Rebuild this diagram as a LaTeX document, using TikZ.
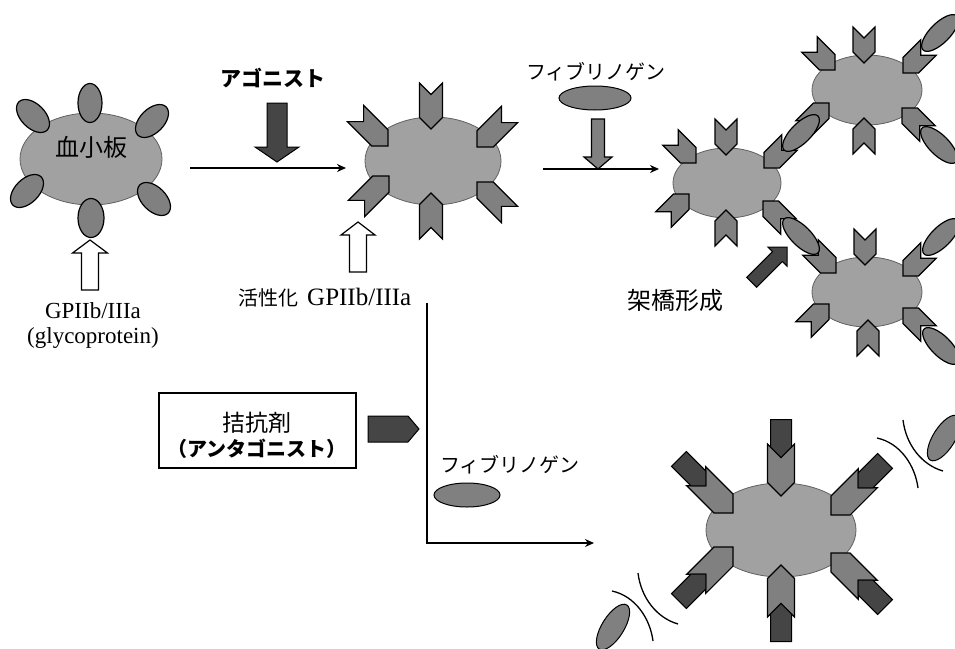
\documentclass[tikz,border=0pt]{standalone}
\usepackage{fontspec}
\setmainfont{Liberation Serif}
\newfontfamily\jp{Noto Sans CJK JP}
\usetikzlibrary{arrows.meta}
\definecolor{gclair}{gray}{.63}
\definecolor{gmoy}{gray}{.5}
\definecolor{gfonce}{gray}{.27}
\tikzset{>=Stealth,
 plaquette/.style={fill=gclair,draw=gray!75!black,line width=.8pt},
 recept/.style={fill=gmoy,draw=black,line width=1.2pt,line join=miter},
 sombre/.style={fill=gfonce,draw=black,line width=1pt},
 creux/.style={fill=white,draw=black,line width=1.2pt},
 flux/.style={line width=1.8pt,-{Stealth[length=9pt,width=8pt]}},
 arc/.style={line width=1.3pt},
 jtxt/.style={font=\jp\fontsize{20}{24}\selectfont},
 ltxt/.style={font=\fontsize{23}{25}\selectfont}}
% recepteur active en chevron : pointe, angle, longueur, largeur
\newcommand{\chev}[4]{\begin{scope}[shift={#1},rotate=#2]
 \filldraw[recept] (0,0)--(-#4/2,#4/2)--(-#3,#4/2)--(-#3+#4/2,0)--(-#3,-#4/2)--(-#4/2,-#4/2)--cycle;
 \end{scope}}
% fleche pleine : style, pointe, angle, longueur, corps, tete, profondeur de tete
\newcommand{\bloc}[7]{\begin{scope}[shift={#2},rotate=#3]
 \filldraw[#1] (0,0)--(-#7,#6/2)--(-#7,#5/2)--(-#4,#5/2)--(-#4,-#5/2)--(-#7,-#5/2)--(-#7,-#6/2)--cycle;
 \end{scope}}
% bouchon antagoniste : pointe, angle, longueur, largeur, profondeur
\newcommand{\bouchon}[5]{\begin{scope}[shift={#1},rotate=#2]
 \filldraw[sombre] (0,0)--(-#5,#4/2)--(-#3,#4/2)--(-#3,-#4/2)--(-#5,-#4/2)--cycle;
 \end{scope}}
% paire d'arcs de repulsion
\newcommand{\repousse}[1]{\begin{scope}[shift={#1}]
 \draw[arc] (877,438) .. controls (900,443) and (915,465) .. (918,488);
 \draw[arc] (903,420) .. controls (906,445) and (922,465) .. (943,471);
 \end{scope}}

\begin{document}
\begin{tikzpicture}[x=1pt,y=-1pt]
\useasboundingbox (0,0) rectangle (955,648);
% Plaquette au repos et ses glycoproteines.
\filldraw[plaquette] (91,159) ellipse (71 and 46);
\node[jtxt,font=\jp\fontsize{24}{26}\selectfont] (plaq) at (91,147) {血小板};
\filldraw[recept] (90,103) ellipse (12 and 19.5);
\filldraw[recept] (91,218) ellipse (13 and 19.5);
\filldraw[recept,rotate around={-45:(33,116)}] (33,116) ellipse (20 and 12);
\filldraw[recept,rotate around={45:(152,121)}] (152,121) ellipse (20 and 12);
\filldraw[recept,rotate around={45:(27,191)}] (27,191) ellipse (20 and 12);
\filldraw[recept,rotate around={-45:(154,199)}] (154,199) ellipse (20 and 12);
\bloc{creux}{(90,240)}{90}{50}{17}{35}{13}
\node[ltxt,align=center] (gp) at (93,325) {GPIIb/IIIa\\(glycoprotein)};
% Activation par l'agoniste.
\coordinate (a0) at (190,168); \coordinate (a1) at (346,168);
\draw[flux] (a0)--(a1);
\bloc{sombre}{(277,162)}{-90}{59}{20}{44}{15}
\node[jtxt,font=\jp\bfseries\fontsize{21}{24}\selectfont] (ago) at (273,78) {アゴニスト};
% Plaquette activee.
\filldraw[plaquette] (433,161) ellipse (68 and 44);
\chev{(431,129)}{-90}{46}{23}
\chev{(431,193)}{90}{46}{23}
\chev{(388,146)}{-45}{46}{23}
\chev{(477,147)}{-135}{46}{23}
\chev{(389,176)}{45}{46}{23}
\chev{(477,182)}{135}{46}{23}
\bloc{creux}{(358,222)}{90}{50}{17}{34}{13}
\node[anchor=west,inner sep=0] (act) at (238,298) {{\jp\fontsize{20}{24}\selectfont 活性化}\hspace{9pt}{\fontsize{25}{25}\selectfont GPIIb/IIIa}};
% Fibrinogene ajoute.
\node[jtxt] (fib1) at (596,72) {フィブリノゲン};
\filldraw[recept,line width=1pt] (595,98) ellipse (36 and 12);
\bloc{recept}{(598,169)}{-90}{50}{13}{28}{12}
\coordinate (b0) at (543,169); \coordinate (b1) at (659,169);
\draw[flux] (b0)--(b1);
% Agregat : trois plaquettes pontees.
\filldraw[plaquette] (727,183) ellipse (54 and 35);
\filldraw[plaquette] (867,90) ellipse (55 and 35);
\filldraw[plaquette] (867,292) ellipse (55 and 35);
\chev{(726,155)}{-90}{36}{22}
\chev{(726,210)}{90}{36}{22}
\chev{(696,163)}{-45}{36}{22}
\chev{(764,168)}{-135}{36}{22}
\chev{(689,194)}{45}{36}{22}
\chev{(763,201)}{135}{36}{22}
\chev{(864,63)}{-90}{36}{22}
\chev{(864,118)}{90}{36}{22}
\chev{(835,70)}{-45}{36}{22}
\chev{(903,73)}{-135}{36}{22}
\chev{(829,103)}{45}{36}{22}
\chev{(902,108)}{135}{36}{22}
\chev{(865,265)}{-90}{36}{22}
\chev{(868,320)}{90}{36}{22}
\chev{(836,273)}{-45}{36}{22}
\chev{(903,276)}{-135}{36}{22}
\chev{(829,304)}{45}{36}{22}
\chev{(903,308)}{135}{36}{22}
\filldraw[recept,rotate around={45:(801,133)}] (801,133) ellipse (24 and 10);
\filldraw[recept,rotate around={-45:(801,236)}] (801,236) ellipse (24 and 10);
\filldraw[recept,rotate around={45:(940,33)}] (940,33) ellipse (24 and 10);
\filldraw[recept,rotate around={-45:(939,145)}] (939,145) ellipse (24 and 10);
\filldraw[recept,rotate around={45:(941,237)}] (941,237) ellipse (24 and 10);
\filldraw[recept,rotate around={-45:(941,346)}] (941,346) ellipse (24 and 10);
\bloc{sombre}{(787,247)}{45}{50}{14}{27}{13.5}
\node[jtxt,font=\jp\fontsize{24}{26}\selectfont] (pont) at (675,300) {架橋形成};
% Antagoniste.
\node[draw,line width=2pt,minimum width=197pt,minimum height=75pt,align=center,
 font=\jp\fontsize{20}{28}\selectfont] (antag) at (257,430)
 {{\fontsize{23}{28}\selectfont\rule{0pt}{31pt}拮抗剤}\\[-3pt]{\bfseries （アンタゴニスト）}};
\bouchon{(419,429)}{0}{51}{26}{11}
\coordinate (c0) at (427,303); \coordinate (c1) at (594,543);
\draw[flux] (c0) |- (c1);
\node[jtxt] (fib2) at (510,465) {フィブリノゲン};
\filldraw[recept,line width=1pt] (467,495) ellipse (33 and 12);
% Plaquette bloquee : recepteurs occupes, fibrinogene repousse.
\filldraw[plaquette] (781,530) ellipse (75 and 47);
\chev{(781,496)}{-90}{52}{27}
\chev{(781,565)}{90}{52}{27}
\chev{(733,513)}{-45}{52}{27}
\chev{(831,515)}{-135}{52}{27}
\chev{(733,547)}{45}{52}{27}
\chev{(831,553)}{135}{52}{27}
\bouchon{(781,457.5)}{-90}{38}{21}{10.5}
\bouchon{(781,603.5)}{90}{38}{21}{10.5}
\bouchon{(705.8,485.8)}{-45}{38}{21}{10.5}
\bouchon{(858.2,487.8)}{-135}{38}{21}{10.5}
\bouchon{(705.8,574.2)}{45}{38}{21}{10.5}
\bouchon{(858.2,580.2)}{135}{38}{21}{10.5}
\repousse{(0,0)}
\repousse{(-265,153)}
\filldraw[recept,line width=1pt,rotate around={58:(944,438)}] (944,438) ellipse (26 and 11);
\filldraw[recept,line width=1pt,rotate around={58:(613,627)}] (613,627) ellipse (26 and 11);
\end{tikzpicture}
\end{document}
